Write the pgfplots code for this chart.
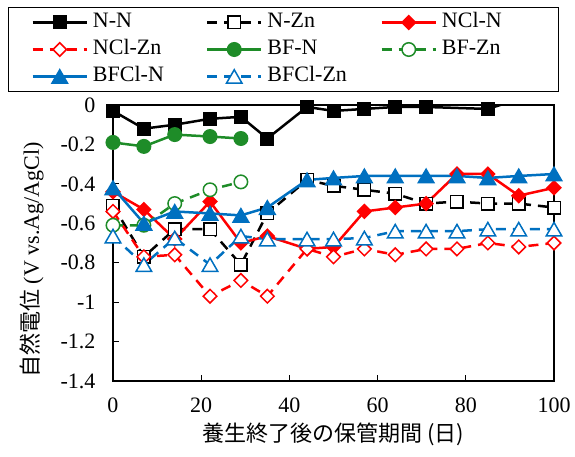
\documentclass[border=0pt]{standalone}
\usepackage{fontspec}
\setmainfont{Liberation Serif}
\newfontfamily\jp{Noto Sans CJK JP}
\usepackage{pgfplots}
\pgfplotsset{compat=1.18}
\definecolor{cgreen}{RGB}{30,140,40}
\definecolor{cblue}{RGB}{0,112,192}
\definecolor{cred}{RGB}{255,0,0}

\begin{document}
\begin{tikzpicture}
\begin{axis}[
  width=441pt, height=276pt, scale only axis,
  xmin=0, xmax=100, ymin=-1.4, ymax=0,
  xtick={0,20,40,60,80,100},
  ytick={-1.4,-1.2,-1,-0.8,-0.6,-0.4,-0.2,0},
  yticklabels={-1.4,-1.2,-1,-0.8,-0.6,-0.4,-0.2,0},
  tick align=inside, xtick pos=bottom, ytick pos=left,
  major tick length=6pt,
  tick style={black, line width=1pt},
  axis line style={line width=1.2pt},
  font=\fontsize{22}{26}\selectfont,
  tick label style={font=\fontsize{22}{26}\selectfont},
  /pgf/number format/assume math mode=true,
  yticklabel style={xshift=-14pt},
  xticklabel style={yshift=-13pt},
  xlabel={{\jp 養生終了後の保管期間 (日)}},
  ylabel={{\jp 自然電位} (V vs.Ag/AgCl)},
  every axis x label/.style={at={(axis description cs:0.5,-0.192)}, anchor=center},
  every axis y label/.style={at={(axis description cs:-0.1837,0.438)}, anchor=center, rotate=90},
  legend columns=3,
  legend cell align=left,
  legend style={at={(axis description cs:-0.2381,1.3551)}, anchor=north west,
    draw=black, line width=1pt, inner xsep=23pt, inner ysep=3.5pt, row sep=4pt,
    font=\fontsize{22}{26}\selectfont,
    nodes={text width=90pt, text height=15pt, text depth=4pt, inner xsep=3pt, inner ysep=2pt, align=left},
    /tikz/every odd column/.append style={column sep=2pt},
    /tikz/every even column/.append style={column sep=20pt}},
  legend image code/.code={\draw[mark repeat=2, mark phase=2, #1] plot coordinates {(0pt,0pt) (27pt,0pt) (54pt,0pt)};},
  every axis plot/.append style={line width=2.5pt},
  dsh/.style={dash pattern=on 10pt off 7pt},
]
% N-N
\addplot[black, mark=square*, mark size=6.25pt, mark options={solid, line width=1.5pt}]
  coordinates {(0,-0.03) (7,-0.12) (14,-0.10) (22,-0.07) (29,-0.06) (35,-0.17) (44,-0.01) (50,-0.03) (57,-0.02) (64,-0.01) (71,-0.01) (85,-0.02)};
\addlegendentry{N-N}
\addplot[black, no marks, forget plot] coordinates {(85,-0.02) (92,0.03)};
% N-Zn
\addplot[black, dsh, mark=square*, mark size=6.25pt, mark options={solid, fill=white, line width=1.5pt}]
  coordinates {(0,-0.51) (7,-0.77) (14,-0.63) (22,-0.63) (29,-0.81) (35,-0.55) (44,-0.38) (50,-0.41) (57,-0.43) (64,-0.45) (71,-0.50) (78,-0.49) (85,-0.50) (92,-0.50) (100,-0.52)};
\addlegendentry{N-Zn}
% NCl-N
\addplot[cred, mark=square*, mark size=4.8pt, mark options={solid, rotate=45, line width=1.5pt}]
  coordinates {(0,-0.44) (7,-0.53) (14,-0.68) (22,-0.49) (29,-0.70) (35,-0.665) (44,-0.73) (50,-0.72) (57,-0.54) (64,-0.52) (71,-0.50) (78,-0.35) (85,-0.35) (92,-0.46) (100,-0.42)};
\addlegendentry{NCl-N}
% NCl-Zn
\addplot[cred, dsh, mark=square*, mark size=4.8pt, mark options={solid, rotate=45, fill=white, line width=1.5pt}]
  coordinates {(0,-0.54) (7,-0.77) (14,-0.76) (22,-0.97) (29,-0.89) (35,-0.97) (44,-0.73) (50,-0.77) (57,-0.73) (64,-0.76) (71,-0.73) (78,-0.73) (85,-0.70) (92,-0.72) (100,-0.70)};
\addlegendentry{NCl-Zn}
% BF-N
\addplot[cgreen, mark=*, mark size=6.75pt, mark options={solid, line width=1.5pt}]
  coordinates {(0,-0.19) (7,-0.21) (14,-0.15) (22,-0.16) (29,-0.17)};
\addlegendentry{BF-N}
% BF-Zn
\addplot[cgreen, dsh, mark=*, mark size=6.75pt, mark options={solid, fill=white, line width=1.5pt}]
  coordinates {(0,-0.61) (7,-0.61) (14,-0.50) (22,-0.43) (29,-0.39)};
\addlegendentry{BF-Zn}
% BFCl-N
\addplot[cblue, mark=triangle*, mark size=9pt, mark options={solid, yshift=-2.25pt, line width=1.5pt}]
  coordinates {(0,-0.42) (7,-0.60) (14,-0.54) (22,-0.55) (29,-0.56) (35,-0.52) (44,-0.38) (50,-0.37) (57,-0.36) (64,-0.36) (71,-0.36) (78,-0.36) (85,-0.37) (92,-0.36) (100,-0.35)};
\addlegendentry{BFCl-N}
% BFCl-Zn
\addplot[cblue, dsh, mark=triangle*, mark size=9pt, mark options={solid, fill=white, yshift=-2.25pt, line width=1.5pt}]
  coordinates {(0,-0.665) (7,-0.81) (14,-0.675) (22,-0.81) (29,-0.665) (35,-0.68) (44,-0.68) (50,-0.68) (57,-0.675) (64,-0.64) (71,-0.64) (78,-0.64) (85,-0.63) (92,-0.63) (100,-0.63)};
\addlegendentry{BFCl-Zn}
\end{axis}
\pgfresetboundingbox
\useasboundingbox (-113pt,-76pt) rectangle (462pt,381pt);
\end{tikzpicture}
\end{document}
